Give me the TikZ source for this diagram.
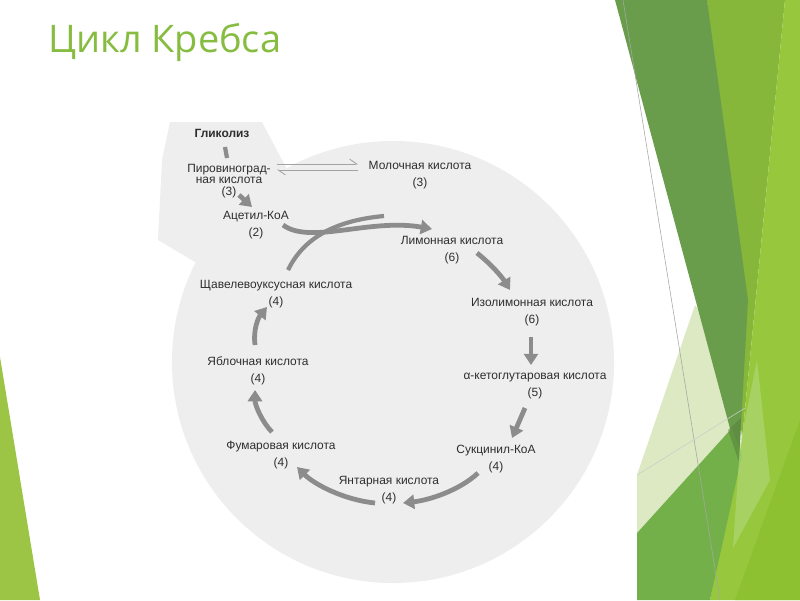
\documentclass[tikz,border=0pt]{standalone}
\usepackage{fontspec}
\setmainfont{Liberation Sans}
\newfontfamily\titlefont{Open Sans}
\usetikzlibrary{arrows.meta,calc,positioning}
\definecolor{krebs-text}{HTML}{2E2E2E}
\definecolor{krebs-arrow}{HTML}{8C8C8C}
\definecolor{krebs-disc}{HTML}{EEEEEE}
\definecolor{slide-title}{HTML}{86BC3F}
\definecolor{slide-dark}{HTML}{6A9D4B}
\definecolor{slide-mid}{HTML}{86B73A}
\definecolor{slide-lime}{HTML}{97C73C}
\definecolor{slide-yellow}{HTML}{8EC132}
\definecolor{slide-grass}{HTML}{73B04A}
\definecolor{slide-pale}{HTML}{DCE9C3}
\definecolor{slide-light}{HTML}{B3D97E}
\definecolor{slide-corner}{HTML}{9CC545}
\tikzset{
  lbl/.style={text=krebs-text, align=center, inner sep=1pt, font=\fontsize{8.5}{12}\selectfont},
  flow/.style={draw=krebs-arrow, line width=3.4pt, -{Triangle[length=8pt,width=10pt]}},
  stub/.style={draw=krebs-arrow, line width=3pt},
  harp/.style={draw=krebs-arrow!80, line width=0.6pt, -{Straight Barb[harpoon,length=5pt,width=7pt]}}
}

\begin{document}
\begin{tikzpicture}[x=0.025cm, y=-0.025cm]
    \useasboundingbox (0,0) rectangle (800,600);

    % slide decoration
    \fill[slide-corner] (0,357) -- (40,600) -- (0,600) -- cycle;
    \fill[slide-pale] (695,305) -- (637,475) -- (637,533) -- (732,428) -- (715,330) -- cycle;
    \fill[slide-mid] (707,0) -- (785,0) -- (742,440) -- cycle;
    \fill[slide-lime] (785,0) -- (800,0) -- (800,600) -- (710,600) -- (742,440) -- cycle;
    \fill[slide-yellow] (800,420) -- (800,600) -- (735,600) -- cycle;
    \fill[slide-dark] (615,0) -- (707,0) -- (748,300) -- (739,462) -- cycle;
    \fill[slide-grass] (637,533) -- (732,428) -- (742,455) -- (710,600) -- (637,600) -- cycle;
    \fill[slide-dark!80!black, opacity=0.5] (728,430) -- (741,418) -- (739,462) -- cycle;
    \fill[slide-light, opacity=0.6] (757,360) -- (770,480) -- (733,548) -- (740,445) -- cycle;
    \draw[gray!70, line width=0.4pt] (623,0) -- (720,600);
    \draw[gray!40, line width=0.4pt] (637,475) -- (745,408);

    \node[anchor=base west, inner sep=0, text=slide-title, font=\titlefont\fontsize{27}{30}\selectfont] (title) at (48,52) {Цикл Кребса};

    % grey disc behind the cycle
    \fill[krebs-disc] (170,122) -- (262,122) -- (290,175) -- (200,265) -- (158,240) -- (162,160) -- cycle;
    \fill[krebs-disc] (393,362) circle (5.525cm);

    \node[lbl, font=\fontsize{8.5}{12}\selectfont\bfseries] (glik) at (222,133) {Гликолиз};
    \node[lbl, font=\fontsize{8.5}{8}\selectfont] (piro) at (229,181) {Пировиноград-\\ная кислота\\(3)};
    \node[lbl] (molo) at (420,175) {Молочная кислота\\(3)};
    \node[lbl] (acet) at (256,225) {Ацетил-КоА\\(2)};
    \node[lbl] (limon) at (452,250) {Лимонная кислота\\(6)};
    \node[lbl] (izo) at (532,312) {Изолимонная кислота\\(6)};
    \node[lbl] (keto) at (535,386) {α-кетоглутаровая кислота\\(5)};
    \node[lbl] (sukc) at (496,459) {Сукцинил-КоА\\(4)};
    \node[lbl] (yant) at (389,490) {Янтарная кислота\\(4)};
    \node[lbl] (fum) at (281,455) {Фумаровая кислота\\(4)};
    \node[lbl] (yabl) at (258,371) {Яблочная кислота\\(4)};
    \node[lbl] (shch) at (276,294) {Щавелевоуксусная кислота\\(4)};

    \coordinate (merge) at (384,216);

    \draw[stub] ($(glik)+(3,14)$) -- ($(glik)+(5,25)$);
    \draw[flow] ($(piro)+(10,14)$) -- ($(acet)+(-4,-18)$);
    \draw[harp] ($(piro)+(48,-17)$) -- ($(molo)+(-62,-11)$);
    \draw[harp] ($(molo)+(-62,-5)$) -- ($(piro)+(48,-11)$);

    \draw[stub] ($(shch)+(12,-24)$) .. controls (305,235) and (340,220) .. (merge);
    \draw[flow] ($(acet)+(27,0)$) .. controls (310,245) and (370,218) .. ($(limon)+(-20,-21)$);
    \draw[flow] ($(limon)+(25,3)$) .. controls (492,265) and (502,277) .. ($(izo)+(-22,-22)$);
    \draw[flow] ($(izo)+(-1,25)$) -- ($(keto)+(-4,-21)$);
    \draw[flow] ($(keto)+(-10,22)$) -- ($(sukc)+(16,-21)$);
    \draw[flow] ($(sukc)+(-18,14)$) .. controls (460,490) and (430,500) .. ($(yant)+(14,13)$);
    \draw[flow] ($(yant)+(-14,13)$) .. controls (345,500) and (315,485) .. ($(fum)+(16,12)$);
    \draw[flow] ($(fum)+(-9,-23)$) .. controls (262,422) and (255,405) .. ($(yabl)+(-3,19)$);
    \draw[flow] ($(yabl)+(-3,-26)$) .. controls (253,330) and (258,318) .. ($(shch)+(-9,13)$);
\end{tikzpicture}
\end{document}
